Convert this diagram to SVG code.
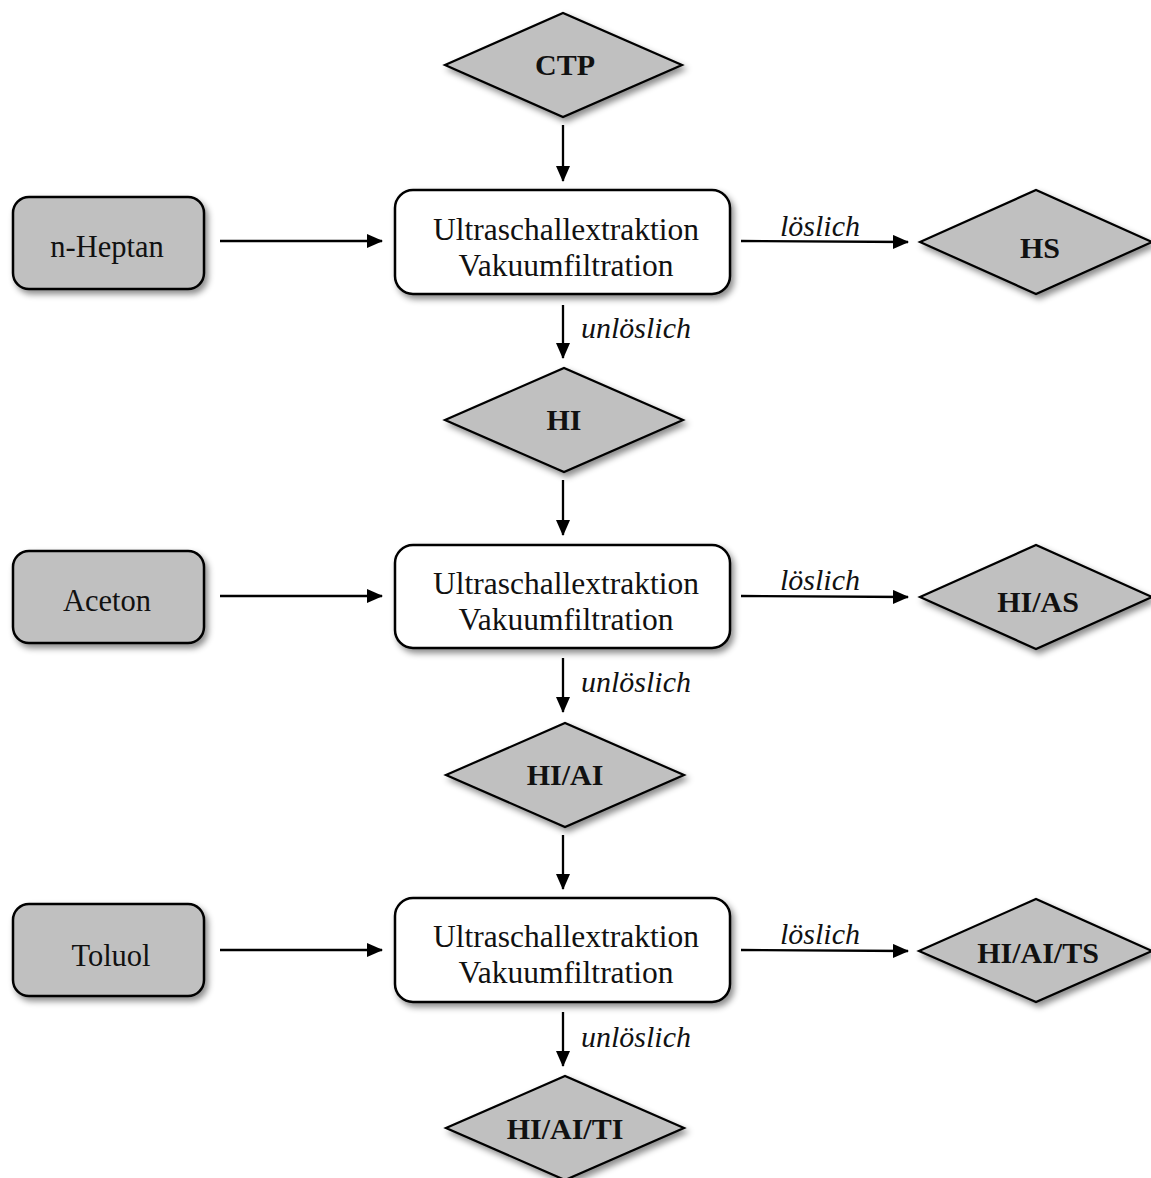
<svg xmlns="http://www.w3.org/2000/svg" width="1151" height="1178" viewBox="0 0 1151 1178">
<style>
.side{fill:#c0c0c0;stroke:#000;stroke-width:2.5}
.proc{fill:#fff;stroke:#000;stroke-width:2.5}
.dia{fill:#c0c0c0;stroke:#000;stroke-width:2.2}
.t{font-family:"Liberation Serif","Times New Roman",serif;fill:#111;text-anchor:middle}
.reg{font-size:30.5px}
.pt{font-size:31.5px}
.b{font-size:30px;font-weight:bold}
.it{font-family:"Liberation Serif","Times New Roman",serif;font-style:italic;font-size:30px;fill:#111}
.c{stroke:#000;stroke-width:2.3;fill:none;marker-end:url(#ah)}
</style>
<defs>
<filter id="sh" x="-10%" y="-10%" width="125%" height="130%">
<feDropShadow dx="3" dy="4" stdDeviation="3" flood-color="#000" flood-opacity="0.45"/>
</filter>
<marker id="ah" markerUnits="userSpaceOnUse" markerWidth="16" markerHeight="14" refX="15" refY="7" orient="auto">
<path d="M0,0 L16,7 L0,14 Z" fill="#000"/>
</marker>
</defs>
<rect width="1151" height="1178" fill="#fff"/>

<g id="connectors">
<line class="c" x1="563" y1="125" x2="563" y2="181"/>
<line class="c" x1="220" y1="241" x2="382" y2="241"/>
<line class="c" x1="741" y1="241" x2="908" y2="242"/>
<line class="c" x1="563" y1="305" x2="563" y2="358"/>
<line class="c" x1="563" y1="480" x2="563" y2="535"/>
<line class="c" x1="220" y1="596" x2="382" y2="596"/>
<line class="c" x1="741" y1="596" x2="908" y2="597"/>
<line class="c" x1="563" y1="658" x2="563" y2="712"/>
<line class="c" x1="563" y1="835" x2="563" y2="889"/>
<line class="c" x1="220" y1="950" x2="382" y2="950"/>
<line class="c" x1="741" y1="950" x2="908" y2="951"/>
<line class="c" x1="563" y1="1012" x2="563" y2="1066"/>
<text class="it" x="780" y="236">löslich</text>
<text class="it" x="780" y="590">löslich</text>
<text class="it" x="780" y="944">löslich</text>
<text class="it" x="581" y="338">unlöslich</text>
<text class="it" x="581" y="692">unlöslich</text>
<text class="it" x="581" y="1047">unlöslich</text>
</g>

<g id="ctp">
<polygon class="dia" filter="url(#sh)" points="445,65 563,13 682,65 563,117"/>
<text class="t b" x="565" y="75">CTP</text>
</g>

<g id="nheptan">
<rect class="side" filter="url(#sh)" x="13" y="197" width="191" height="92" rx="16"/>
<text class="t reg" x="107" y="257">n-Heptan</text>
</g>
<g id="proc1">
<rect class="proc" filter="url(#sh)" x="395" y="190" width="335" height="104" rx="18"/>
<text class="t pt" x="566" y="240">Ultraschallextraktion</text>
<text class="t pt" x="566" y="276">Vakuumfiltration</text>
</g>
<g id="hs">
<polygon class="dia" filter="url(#sh)" points="920,242 1036,190 1152,242 1036,294"/>
<text class="t b" x="1040" y="258">HS</text>
</g>
<g id="hi">
<polygon class="dia" filter="url(#sh)" points="445,420 564,368 683,420 564,472"/>
<text class="t b" x="564" y="430">HI</text>
</g>

<g id="aceton">
<rect class="side" filter="url(#sh)" x="13" y="551" width="191" height="92" rx="16"/>
<text class="t reg" x="107" y="611">Aceton</text>
</g>
<g id="proc2">
<rect class="proc" filter="url(#sh)" x="395" y="545" width="335" height="103" rx="18"/>
<text class="t pt" x="566" y="594">Ultraschallextraktion</text>
<text class="t pt" x="566" y="630">Vakuumfiltration</text>
</g>
<g id="hias">
<polygon class="dia" filter="url(#sh)" points="920,597 1036,545 1152,597 1036,649"/>
<text class="t b" x="1038" y="612">HI/AS</text>
</g>
<g id="hiai">
<polygon class="dia" filter="url(#sh)" points="446,775 565,723 684,775 565,827"/>
<text class="t b" x="565" y="785">HI/AI</text>
</g>

<g id="toluol">
<rect class="side" filter="url(#sh)" x="13" y="904" width="191" height="92" rx="16"/>
<text class="t reg" x="111" y="966">Toluol</text>
</g>
<g id="proc3">
<rect class="proc" filter="url(#sh)" x="395" y="898" width="335" height="104" rx="18"/>
<text class="t pt" x="566" y="947">Ultraschallextraktion</text>
<text class="t pt" x="566" y="983">Vakuumfiltration</text>
</g>
<g id="hiaits">
<polygon class="dia" filter="url(#sh)" points="919,951 1036,899 1152,951 1036,1002"/>
<text class="t b" x="1038" y="963">HI/AI/TS</text>
</g>
<g id="hiaiti">
<polygon class="dia" filter="url(#sh)" points="446,1128 565,1076 684,1128 565,1180"/>
<text class="t b" x="565" y="1139">HI/AI/TI</text>
</g>
</svg>
